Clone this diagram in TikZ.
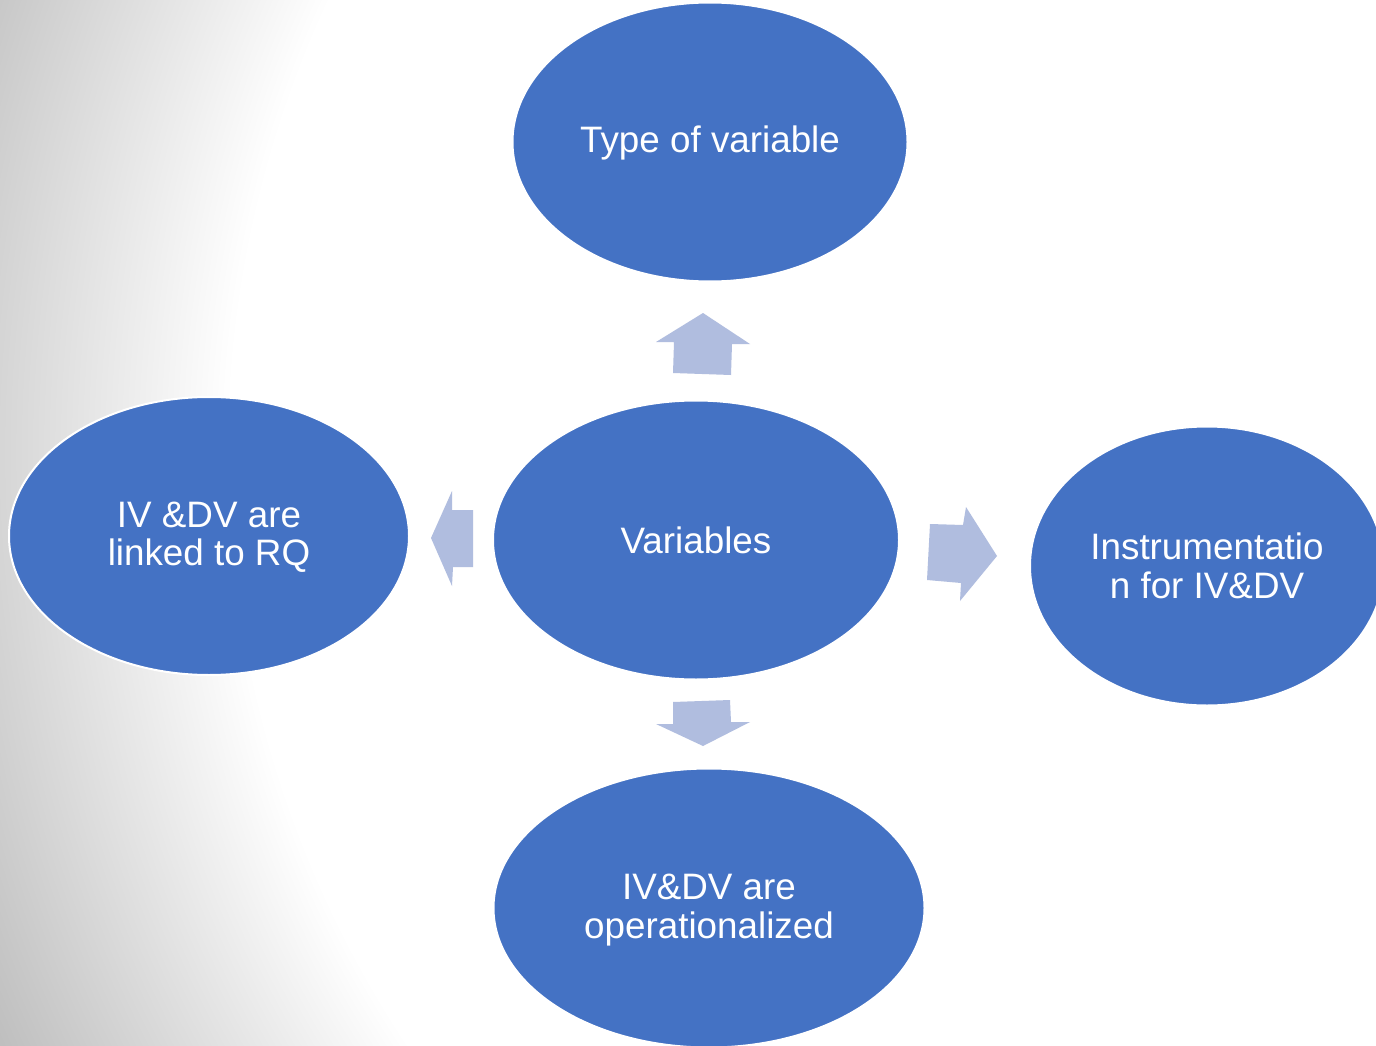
\documentclass[tikz,border=0pt]{standalone}
\usepackage{fontspec}
\setmainfont{Liberation Sans}
\usetikzlibrary{shapes.geometric}
\definecolor{ellblue}{HTML}{4472C4}
\definecolor{arrfill}{RGB}{176,189,223}
\definecolor{bgA}{RGB}{200,200,200}
\definecolor{bgB}{RGB}{178,178,178}
\pgfdeclareradialshading{bgshade}{\pgfpointorigin}{color(0bp)=(white); color(17.83bp)=(white); color(22.93bp)=(bgA); color(25bp)=(bgB); color(50bp)=(bgB)}
\begin{document}
\begin{tikzpicture}[x=1pt,y=-1pt,
  bubble/.style={ellipse, fill=ellblue, draw=white, line width=2pt, inner sep=0pt, text=white, align=center, font=\fontsize{36.8}{38.5}\selectfont},
  blockarrow/.style={fill=arrfill, draw=none}]
\useasboundingbox (0,0) rectangle (1376,1046);
\begin{scope}
\clip (0,0) rectangle (1376,1046);
\shade[shading=bgshade] (1300,452) circle (1500pt);
\end{scope}
\node[bubble, minimum width=395, minimum height=279, text depth=4.7pt] (type) at (710,142) {Type of variable};
\node[bubble, minimum width=406, minimum height=279] (vars) at (696,540) {Variables};
\node[bubble, minimum width=400, minimum height=278, text depth=4pt] (lft) at (209,536) {IV \&DV are\\linked to RQ};
\node[bubble, minimum width=354, minimum height=279] (rgt) at (1207,566) {Instrumentatio\\n for IV\&DV};
\node[bubble, minimum width=431, minimum height=279, text depth=3pt] (bot) at (709,908) {IV\&DV are\\operationalized};
\fill[blockarrow] (703,313) -- (750,344) -- (732,344) -- (731,375) -- (673,373) -- (674,342) -- (656,342) -- cycle;
\fill[blockarrow] (930,524) -- (963,525) -- (966,507) -- (997,556) -- (960,601) -- (961,583) -- (927,580) -- cycle;
\fill[blockarrow] (431,538) -- (452,491) -- (452,510) -- (473,510) -- (473,567) -- (453,567) -- (452,586) -- cycle;
\fill[blockarrow] (673,702) -- (730,700) -- (731,722) -- (750,722) -- (703,746) -- (656,724) -- (673,724) -- cycle;
\end{tikzpicture}
\end{document}
